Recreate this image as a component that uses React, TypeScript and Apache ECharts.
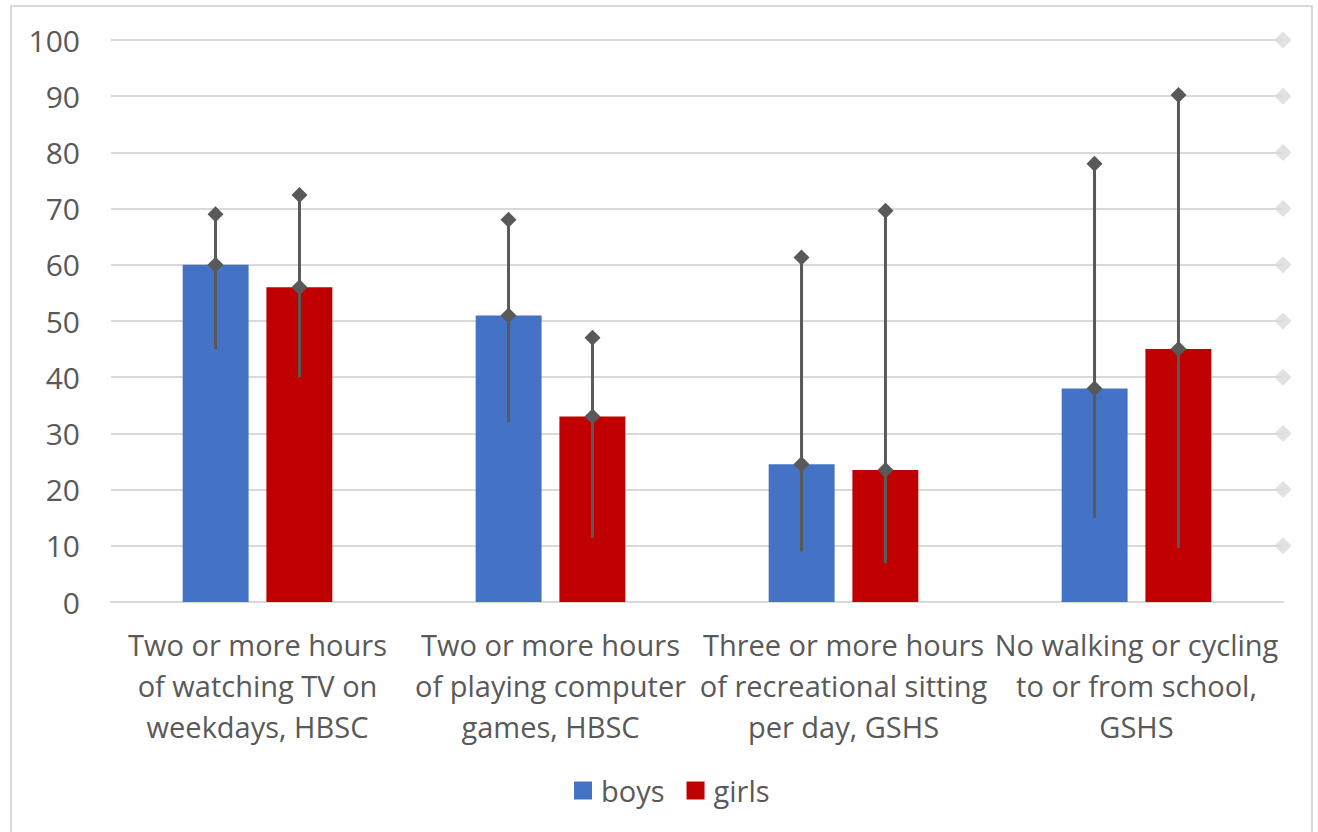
import React, { useEffect, useRef } from "react";
import * as echarts from "echarts";

const categories = [
  "Two or more hours\nof watching TV on\nweekdays, HBSC",
  "Two or more hours\nof playing computer\ngames, HBSC",
  "Three or more hours\nof recreational sitting\nper day, GSHS",
  "No walking or cycling\nto or from school,\nGSHS",
];
const boys = [60, 51, 24.5, 38];
const girls = [56, 33, 23.5, 45];
const boysLow = [45, 32, 9, 15];
const boysHigh = [69, 68, 61.3, 78];
const girlsLow = [40, 11.4, 6.9, 9.6];
const girlsHigh = [72.4, 47, 69.6, 90.2];
const rightMarkers = [10, 20, 30, 40, 50, 60, 70, 80, 90, 100];

const FONT = "Open Sans";
const TEXT = "#595959";
const BAR_W = 0.225;
const GAP = 0.0615;

function errorSeries(name: string, vals: number[], lows: number[], highs: number[], dir: number) {
  return {
    type: "custom",
    name: name + "-err",
    xAxisIndex: 0,
    yAxisIndex: 0,
    z: 5,
    silent: true,
    encode: { x: 0, y: [1, 2, 3] },
    data: vals.map((v, i) => [i, lows[i], highs[i], v]),
    renderItem: (params: any, api: any) => {
      const idx = api.value(0);
      const band = api.size([1, 0])[0];
      const off = dir * ((BAR_W + GAP) / 2) * band;
      const pLow = api.coord([idx, api.value(1)]);
      const pHigh = api.coord([idx, api.value(2)]);
      const pVal = api.coord([idx, api.value(3)]);
      const x = pLow[0] + off;
      const d = 8;
      const diamond = (y: number) => ({
        type: "polygon",
        shape: { points: [[x, y - d], [x + d, y], [x, y + d], [x - d, y]] },
        style: { fill: TEXT },
      });
      return {
        type: "group",
        children: [
          {
            type: "line",
            shape: { x1: x, y1: pLow[1], x2: x, y2: pHigh[1] },
            style: { stroke: TEXT, lineWidth: 3 },
          },
          diamond(pHigh[1]),
          diamond(pVal[1]),
        ],
      };
    },
  };
}

export default function App() {
  const ref = useRef<HTMLDivElement>(null);
  useEffect(() => {
    document.body.style.margin = "0";
    const chart = echarts.init(ref.current!, null, { renderer: "svg" });
    chart.setOption({
      animation: false,
      backgroundColor: "#ffffff",
      textStyle: { fontFamily: FONT },
      graphic: [
        {
          type: "rect",
          shape: { x: 11, y: 6, width: 1301, height: 840 },
          style: { fill: "none", stroke: "#d9d9d9", lineWidth: 2 },
          silent: true,
          z: -10,
        },
      ],
      grid: { left: 111, right: 35, top: 40, bottom: 230, containLabel: false },
      legend: {
        bottom: 22,
        left: 569,
        itemWidth: 18,
        itemHeight: 18,
        itemGap: 22,
        icon: "rect",
        data: ["boys", "girls"],
        textStyle: { fontFamily: FONT, fontSize: 29, color: TEXT, padding: [0, 0, 0, 4] },
      },
      xAxis: [
        {
          type: "category",
          data: categories,
          axisLine: { lineStyle: { color: "#d9d9d9", width: 2 } },
          axisTick: { show: false },
          axisLabel: {
            fontFamily: FONT,
            fontSize: 29,
            color: TEXT,
            lineHeight: 41,
            margin: 22,
            interval: 0,
          },
        },
        { type: "value", min: 0, max: 1, show: false },
      ],
      yAxis: {
        type: "value",
        min: 0,
        max: 100,
        interval: 10,
        axisLine: { show: false },
        axisTick: { show: false },
        splitLine: { lineStyle: { color: "#d9d9d9", width: 2 } },
        axisLabel: { fontFamily: FONT, fontSize: 30, color: TEXT, margin: 31 },
      },
      series: [
        {
          name: "boys",
          type: "bar",
          data: boys,
          barWidth: "22.5%",
          barGap: "27%",
          itemStyle: { color: "#4472C4" },
        },
        {
          name: "girls",
          type: "bar",
          data: girls,
          barWidth: "22.5%",
          barGap: "27%",
          itemStyle: { color: "#C00000" },
        },
        errorSeries("boys", boys, boysLow, boysHigh, -1),
        errorSeries("girls", girls, girlsLow, girlsHigh, 1),
        {
          type: "scatter",
          name: "ref",
          xAxisIndex: 1,
          yAxisIndex: 0,
          symbol: "diamond",
          symbolSize: 17,
          clip: false,
          silent: true,
          itemStyle: { color: "#d9d9d9" },
          data: rightMarkers.map((v) => [1, v]),
        },
      ],
    });
    return () => chart.dispose();
  }, []);
  return <div ref={ref} style={{ width: 1318, height: 832 }} />;
}
